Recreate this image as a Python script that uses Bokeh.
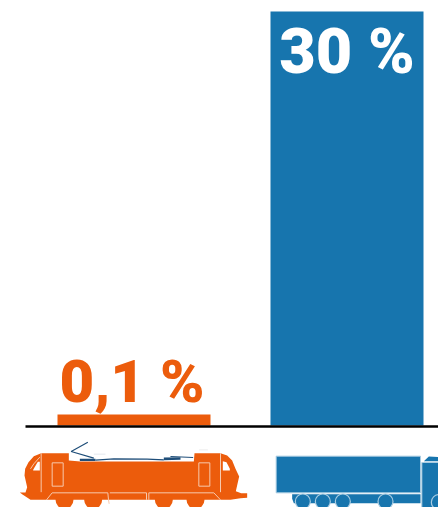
from bokeh.plotting import figure
from bokeh.models import Range1d, ColumnDataSource
from bokeh.core.properties import value
from bokeh.embed import file_html
from bokeh.resources import INLINE

categories = ["Tog", "Lastebil"]
bar_heights = [0.8, 30]
bar_labels = ["0,1 %", "30 %"]
bar_colors = ["#EC5C0C", "#1775AE"]
label_colors = ["#EC5C0C", "#FFFFFF"]
label_dx = [-2, 0]
label_dy = [-33, 40]
label_sizes = ["60px", "63px"]
positions = [0, 1]

W, H = 438, 507
PX_PER_CAT = 213.0
PX_PER_UNIT = 13.8
X0_PX, Y0_PX = 133.5, 425.0

p = figure(width=W, height=H, output_backend="svg", toolbar_location=None,
           min_border=0, min_border_left=0, min_border_right=0, min_border_top=0, min_border_bottom=0,
           x_range=Range1d((0 - X0_PX) / PX_PER_CAT, (438 - X0_PX) / PX_PER_CAT),
           y_range=Range1d((Y0_PX - 507) / PX_PER_UNIT, (Y0_PX - 0) / PX_PER_UNIT))
p.axis.visible = False
p.grid.visible = False
p.outline_line_color = None
p.background_fill_color = "#FFFFFF"
p.border_fill_color = "#FFFFFF"

# overlay range for the pictograms, in picture pixels
p.extra_x_ranges["px"] = Range1d(0, 438)
p.extra_y_ranges["px"] = Range1d(507, 0)
PX = dict(x_range_name="px", y_range_name="px")

src = ColumnDataSource(dict(x=positions, top=bar_heights, color=bar_colors, label=bar_labels,
                            tc=label_colors, dx=label_dx, dy=label_dy, fs=label_sizes, cat=categories))
p.vbar(x="x", top="top", bottom=0, width=153 / PX_PER_CAT, color="color", line_color=None, source=src)

# baseline
p.line([25, 438], [426, 426], line_color="#000000", line_width=2.6, **PX)

p.text(x="x", y="top", text="label", text_color="tc", x_offset="dx", y_offset="dy",
       text_align="center", text_baseline="alphabetic",
       text_font=value("Roboto Black"), text_font_style="bold", text_font_size="fs", source=src)

# ---- train pictogram (traced outline) ----
OR = bar_colors[0]
def tx(a): return [v / 3 for v in a]
def ty(a): return [340 + v / 3 for v in a]

body_x = [58, 75, 80, 72, 74, 84, 100, 122, 205, 205, 240, 580, 582, 660, 680, 695, 705, 716, 706, 722, 740, 740, 720, 690, 90, 66]
body_y = [456, 456, 440, 405, 385, 365, 347, 338, 338, 360, 363, 363, 338, 338, 345, 360, 385, 408, 452, 458, 458, 472, 473, 478, 478, 462]
p.patch(tx(body_x), ty(body_y), color=OR, line_color=None, **PX)
p.circle(x=tx([192, 278, 490, 585]), y=ty([478, 478, 478, 478]), radius=9, fill_color=OR, line_color=None, **PX)

light = "#F7C9AE"
p.patch(tx([98, 112, 118, 118, 98]), ty([388, 364, 364, 390, 390]), color="#FFFFFF", line_color=None, **PX)
p.patch(tx([667, 667, 678, 688, 688]), ty([390, 362, 365, 385, 390]), color="#FFFFFF", line_color=None, **PX)
for xs, ys in [
    ([122, 122], [338, 455]), ([660, 660], [338, 455]),
    ([155, 188, 188, 155, 155], [367, 367, 437, 437, 367]),
    ([595, 628, 628, 595, 595], [367, 367, 437, 437, 367]),
    ([138, 155, 322, 324, 326], [478, 457, 457, 478, 490]),
    ([328, 438, 438], [457, 457, 478]),
    ([445, 445, 640, 660], [478, 457, 457, 478]),
    ([90, 100, 118], [385, 370, 350]),
]:
    p.line(tx(xs), ty(ys), line_color=light, line_width=1, **PX)

NAVY = "#1F4E79"
for xs, ys, w in [
    ([262, 212, 280], [305, 333, 353], 1.2),
    ([238, 285], [358, 358], 2.4),
    ([285, 340, 440, 490], [359, 355, 356, 358], 1.2),
    ([490, 540], [355, 354], 2.6),
    ([510, 578], [348, 351], 1.2),
]:
    p.line(tx(xs), ty(ys), line_color=NAVY, line_width=w, **PX)
p.line(tx([280, 315]), ty([341, 341]), line_color="#E4E8EE", line_width=1, **PX)
p.line(tx([596, 622]), ty([328, 328]), line_color="#EFEFEF", line_width=1.2, **PX)

# ---- truck pictogram (traced outline) ----
BL = bar_colors[1]
LB = "#A9CCE2"
def ux(a): return [260 + v / 3 for v in a]
def uy(a): return [400 + v / 3 for v in a]

p.patch(ux([47, 480, 480, 47]), uy([167, 167, 277, 277]), fill_color=BL, line_color=LB, line_width=1, **PX)
p.patch(ux([95, 480, 480, 100, 95]), uy([281, 281, 308, 308, 295]), fill_color=BL, line_color=None, **PX)
p.patch(ux([484, 540, 540, 484]), uy([186, 186, 325, 325]), fill_color=BL, line_color=LB, line_width=1, **PX)
p.patch(ux([490, 505, 540, 540]), uy([182, 168, 170, 182]), fill_color=BL, line_color=None, **PX)
p.circle(x=ux([127, 187, 247, 375, 535]), y=uy([303, 303, 303, 303, 305]), radius=7.5,
         fill_color=BL, line_color=LB, line_width=1.2, **PX)

open("out.html", "w").write(file_html(p, INLINE))
